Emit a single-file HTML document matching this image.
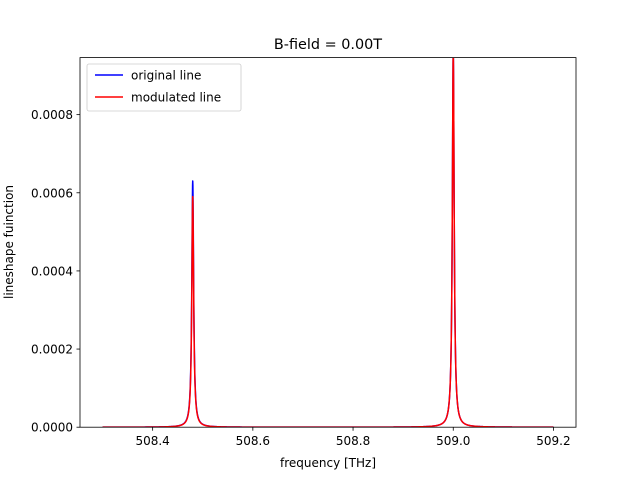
<!DOCTYPE html>
<html><head><meta charset="utf-8"><style>
body{margin:0;background:#fff;}
svg{display:block;font-family:"DejaVu Sans","Liberation Sans",sans-serif;}
</style></head><body>
<svg id="chart" width="640" height="480" viewBox="0 0 640 480">
<rect width="640" height="480" fill="#fff"/>
<defs><clipPath id="clip"><rect x="80" y="57.6" width="496" height="369.6"/></clipPath></defs>
<text x="328" y="49" text-anchor="middle" font-size="14.4">B-field = 0.00T</text>
<g id="series" clip-path="url(#clip)"></g>
<g id="axes"></g>
<rect x="80" y="57.6" width="496" height="369.6" fill="none" stroke="#000" stroke-width="0.8"/>
<text x="328" y="467" text-anchor="middle" font-size="12">frequency [THz]</text>
<text transform="translate(13,242) rotate(-90)" text-anchor="middle" font-size="12">lineshape fuinction</text>
<g>
<rect x="87" y="64" width="154" height="47" rx="2" fill="#fff" fill-opacity="0.8" stroke="#ccc" stroke-width="0.8"/>
<line x1="95" y1="75" x2="123" y2="75" stroke="#0000ff" stroke-width="1.5"/>
<text x="131" y="79.5" font-size="12">original line</text>
<line x1="95" y1="97" x2="123" y2="97" stroke="#ff0000" stroke-width="1.5"/>
<text x="131" y="101.5" font-size="12">modulated line</text>
</g>
</svg>
<script>
const peakCenters = [508.48, 509.0];
const originalHeights = [0.00063, 0.00096];
const modulatedHeights = [0.00059, 0.00096];
const peakWidths = [0.0022, 0.0022];
const freqRange = [508.3, 509.2];
const xTicks = [508.4, 508.6, 508.8, 509.0, 509.2];
const xTickLabels = ["508.4", "508.6", "508.8", "509.0", "509.2"];
const yTicks = [0, 0.0002, 0.0004, 0.0006, 0.0008];
const yTickLabels = ["0.0000", "0.0002", "0.0004", "0.0006", "0.0008"];

const NS = "http://www.w3.org/2000/svg";
const X0 = 80, X1 = 576, Y0 = 427.2, Y1 = 57.6;
const xmin = 508.255, xmax = 509.245, ymin = 0, ymax = 0.000946;
const xs = v => X0 + (v - xmin) / (xmax - xmin) * (X1 - X0);
const ys = v => Y0 - (v - ymin) / (ymax - ymin) * (Y0 - Y1);

function lineshape(f, heights) {
  let s = 0;
  for (let i = 0; i < peakCenters.length; i++) {
    const g = peakWidths[i], d = f - peakCenters[i];
    s += heights[i] * g * g / (d * d + g * g);
  }
  return s;
}
function samples() {
  const pts = [];
  const n = 3000;
  for (let i = 0; i <= n; i++) pts.push(freqRange[0] + (freqRange[1] - freqRange[0]) * i / n);
  peakCenters.forEach(c => pts.push(c));
  return pts.sort((a, b) => a - b);
}
const seriesG = document.getElementById("series");
function drawSeries(heights, color, name) {
  const p = document.createElementNS(NS, "path");
  const d = samples().map((f, i) => (i ? "L" : "M") + xs(f).toFixed(2) + "," + ys(lineshape(f, heights)).toFixed(2)).join("");
  p.setAttribute("d", d);
  p.setAttribute("fill", "none");
  p.setAttribute("stroke", color);
  p.setAttribute("stroke-width", "1.5");
  p.setAttribute("stroke-linejoin", "round");
  
  
  seriesG.appendChild(p);
}
drawSeries(originalHeights, "#0000ff", "original-line");
drawSeries(modulatedHeights, "#ff0000", "modulated-line");

const axes = document.getElementById("axes");
xTicks.forEach((v, i) => {
  const x = xs(v);
  const t = document.createElementNS(NS, "line");
  t.setAttribute("x1", x); t.setAttribute("x2", x);
  t.setAttribute("y1", Y0); t.setAttribute("y2", Y0 + 3.5);
  t.setAttribute("stroke", "#000"); t.setAttribute("stroke-width", "0.8");
  
  
  axes.appendChild(t);
  const l = document.createElementNS(NS, "text");
  l.setAttribute("x", x); l.setAttribute("y", Y0 + 18);
  l.setAttribute("text-anchor", "middle"); l.setAttribute("font-size", "12");
  l.textContent = xTickLabels[i];
  
  
  axes.appendChild(l);
});
yTicks.forEach((v, i) => {
  const y = ys(v);
  const t = document.createElementNS(NS, "line");
  t.setAttribute("x1", X0 - 3.5); t.setAttribute("x2", X0);
  t.setAttribute("y1", y); t.setAttribute("y2", y);
  t.setAttribute("stroke", "#000"); t.setAttribute("stroke-width", "0.8");
  
  
  axes.appendChild(t);
  const l = document.createElementNS(NS, "text");
  l.setAttribute("x", X0 - 7); l.setAttribute("y", y + 4.5);
  l.setAttribute("text-anchor", "end"); l.setAttribute("font-size", "12");
  l.textContent = yTickLabels[i];
  
  
  axes.appendChild(l);
});
</script>
</body></html>
